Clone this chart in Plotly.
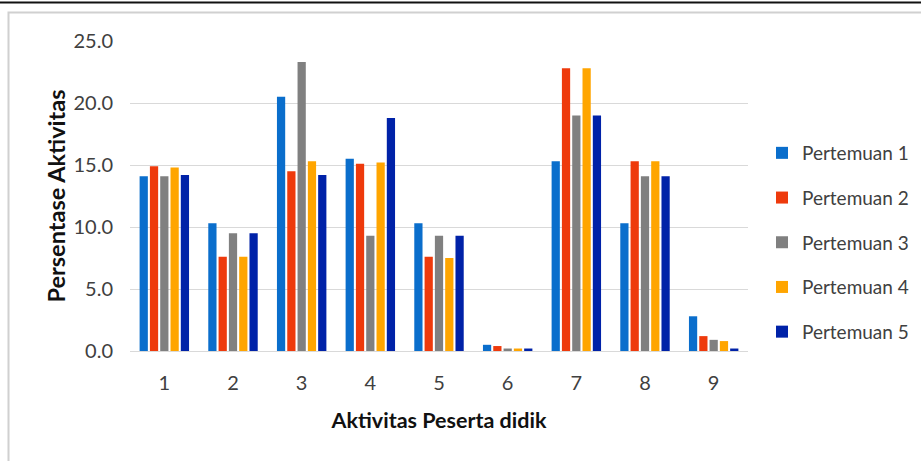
import plotly.graph_objects as go

categories = ["1", "2", "3", "4", "5", "6", "7", "8", "9"]
series_names = ["Pertemuan 1", "Pertemuan 2", "Pertemuan 3", "Pertemuan 4", "Pertemuan 5"]
pertemuan_1 = [14.1, 10.3, 20.5, 15.5, 10.3, 0.5, 15.3, 10.3, 2.8]
pertemuan_2 = [14.9, 7.6, 14.5, 15.1, 7.6, 0.4, 22.8, 15.3, 1.2]
pertemuan_3 = [14.1, 9.5, 23.3, 9.3, 9.3, 0.2, 19.0, 14.1, 0.9]
pertemuan_4 = [14.8, 7.6, 15.3, 15.2, 7.5, 0.2, 22.8, 15.3, 0.8]
pertemuan_5 = [14.2, 9.5, 14.2, 18.8, 9.3, 0.2, 19.0, 14.1, 0.2]
y_ticks = [0, 5, 10, 15, 20, 25]

colors = ["#0A6ECC", "#EE3A0C", "#808080", "#FFA500", "#0022A8"]
all_series = [pertemuan_1, pertemuan_2, pertemuan_3, pertemuan_4, pertemuan_5]

FONT = "Lato"

fig = go.Figure()
for i, (name, vals) in enumerate(zip(series_names, all_series)):
    fig.add_trace(go.Bar(
        x=categories, y=vals, name=name, legendgroup=name,
        marker=dict(color=colors[i], line=dict(width=0)),
    ))

L, R, T, B = 130, 173, 41, 110
W, H = 921, 461
pw, ph = W - L - R, H - T - B

def px(x):
    return (x - L) / pw

def py(y):
    return (H - B - y) / ph

fig.update_layout(
    width=W, height=H,
    margin=dict(l=L, r=R, t=T, b=B, pad=0, autoexpand=False),
    paper_bgcolor="white", plot_bgcolor="white",
    barmode="group", bargap=0.25, bargroupgap=0.2,
    font=dict(family=FONT, size=18, color="#404040"),
    xaxis=dict(
        type="category", showgrid=False, zeroline=False, showline=False,
        ticks="", ticklen=0, ticklabelstandoff=18, automargin=False,
        tickfont=dict(family=FONT, size=20, color="#404040"),
        title=dict(text="<b>Aktivitas Peserta didik</b>", font=dict(family=FONT, size=21.5, color="#111111"), standoff=19),
    ),
    yaxis=dict(
        range=[0, 25], tickvals=y_ticks, tickformat=".1f",
        showgrid=True, gridcolor="#D9D9D9", gridwidth=1,
        zeroline=True, zerolinecolor="#D9D9D9", zerolinewidth=1,
        showline=False, ticks="", ticklen=0, ticklabelstandoff=16, automargin=False,
        tickfont=dict(family=FONT, size=20, color="#404040"),
        title=dict(text="<b>Persentase Aktivitas</b>", font=dict(family=FONT, size=23.5, color="#111111"), standoff=1),
    ),
    legend=dict(
        x=762 / W, y=1 - 134 / H, xref="container", yref="container",
        xanchor="left", yanchor="top",
        font=dict(family=FONT, size=19, color="#404040"),
        tracegroupgap=17, bgcolor="rgba(0,0,0,0)",
        itemwidth=30,
    ),
    showlegend=True,
    shapes=[
        dict(type="line", xref="paper", yref="paper", x0=px(-5), x1=px(930), y0=py(2.5), y1=py(2.5),
             line=dict(color="#111111", width=2)),
        dict(type="rect", xref="paper", yref="paper", x0=px(8.5), x1=px(940), y0=py(12.5), y1=py(480),
             line=dict(color="#D0D0D0", width=2), fillcolor="rgba(0,0,0,0)", layer="below"),
    ],
)

fig.write_html("out.html")
